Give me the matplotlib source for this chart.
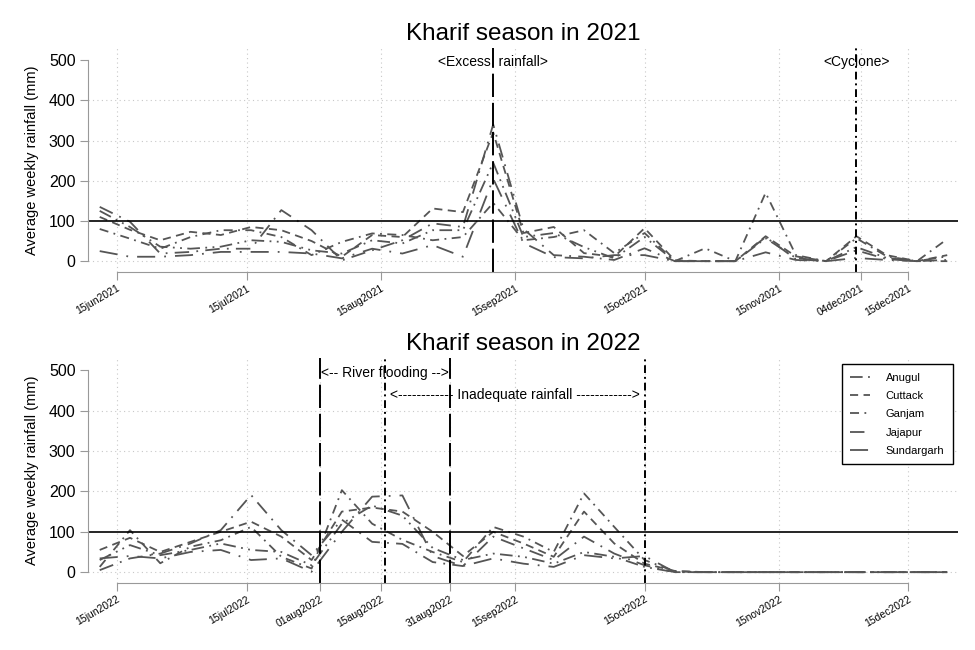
import datetime as dt
import matplotlib
matplotlib.use("Agg")
import matplotlib.pyplot as plt
import matplotlib.dates as mdates
from matplotlib.lines import Line2D

plt.rcParams['font.family'] = ['Liberation Sans', 'DejaVu Sans']

# weekly averages, weeks starting 11 June through 24 December
districts = ["Anugul", "Cuttack", "Ganjam", "Jajapur", "Sundargarh"]
n_weeks = 29

rain_2021 = {
    "Anugul":     [125, 85, 36, 31, 36, 52, 48, 27, 19, 52, 44, 77, 77, 245, 60, 70, 35, 7, 60, 0, 0, 0, 57, 8, 0, 35, 8, 0, 12],
    "Cuttack":    [110, 78, 52, 73, 65, 85, 77, 50, 11, 65, 60, 131, 122, 320, 70, 85, 20, 11, 82, 2, 0, 0, 62, 12, 0, 62, 15, 0, 15],
    "Ganjam":     [80, 56, 31, 60, 77, 77, 60, 15, 48, 69, 65, 52, 60, 145, 52, 60, 77, 20, 70, 0, 32, 0, 170, 15, 0, 57, 12, 0, 55],
    "Jajapur":    [135, 98, 19, 23, 31, 31, 127, 77, 2, 27, 52, 94, 85, 340, 80, 15, 11, 3, 32, 0, 0, 0, 60, 5, 0, 27, 5, 0, 3],
    "Sundargarh": [25, 11, 11, 15, 23, 23, 23, 19, 7, 31, 19, 40, 11, 205, 45, 10, 7, 15, 15, 0, 0, 0, 22, 3, 0, 8, 3, 0, 0],
}

rain_2022 = {
    "Anugul":     [30, 67, 42, 55, 71, 55, 50, 17, 120, 165, 140, 60, 30, 46, 38, 21, 50, 38, 13, 0, 0, 0, 0, 0, 0, 0, 0, 0, 0],
    "Cuttack":    [55, 85, 50, 75, 100, 125, 88, 30, 150, 160, 150, 100, 40, 100, 71, 38, 150, 71, 21, 3, 0, 0, 0, 0, 0, 0, 0, 0, 0],
    "Ganjam":     [13, 104, 22, 63, 79, 112, 38, 9, 203, 120, 80, 50, 25, 112, 88, 50, 195, 112, 30, 2, 0, 0, 0, 0, 0, 0, 0, 0, 0],
    "Jajapur":    [5, 34, 46, 71, 104, 191, 104, 42, 130, 75, 70, 25, 15, 88, 59, 30, 88, 46, 17, 0, 0, 0, 0, 0, 0, 0, 0, 0, 0],
    "Sundargarh": [34, 40, 34, 50, 55, 30, 34, 1, 100, 187, 190, 40, 15, 34, 21, 13, 42, 34, 40, 0, 0, 0, 0, 0, 0, 0, 0, 0, 0],
}

ticks_2021 = ["15jun2021", "15jul2021", "15aug2021", "15sep2021", "15oct2021", "15nov2021", "04dec2021", "15dec2021"]
ticks_2022 = ["15jun2022", "15jul2022", "01aug2022", "15aug2022", "31aug2022", "15sep2022", "15oct2022", "15nov2022", "15dec2022"]

styles = {
    "Anugul": (0, (7, 3, 1, 3, 1, 3)),
    "Cuttack": (0, (4.5, 3)),
    "Ganjam": (0, (5, 3, 1, 3)),
    "Jajapur": (0, (8, 4, 1, 4)),
    "Sundargarh": (0, (10, 5, 1, 5)),
}
line_col = "#555555"
longdash = (0, (12, 3))
dashdot = (0, (4, 2, 1, 2))


def d(s):
    return mdates.date2num(dt.datetime.strptime(s, "%d%b%Y"))


def setup(ax, year, data, ticks):
    start = dt.datetime(year, 6, 11)
    weeks = [mdates.date2num(start + dt.timedelta(days=7 * i)) for i in range(n_weeks)]
    for v in [0, 200, 300, 400]:
        ax.axhline(v, color="#c8c8c8", ls=(0, (1, 3)), lw=0.8, zorder=0)
    for t in ticks:
        ax.axvline(d(t), color="#c8c8c8", ls=(0, (1, 3)), lw=0.8, zorder=0)
    for name in districts:
        ax.plot(weeks, data[name], color=line_col, ls=styles[name], lw=1.3, label=name)
    ax.axhline(100, color="black", lw=1.2)
    ax.set_xlim(d("15jun%d" % year) - 6.7, d("15dec%d" % year) + 11.5)
    ax.set_ylim(-27, 530)
    ax.set_yticks([0, 100, 200, 300, 400, 500])
    ax.set_xticks([d(t) for t in ticks])
    ax.set_xticklabels(ticks, rotation=30, ha="right", rotation_mode="anchor", fontsize=7.5)
    ax.tick_params(axis="y", labelsize=11.5, length=6, color="#999999", pad=3)
    ax.tick_params(axis="x", length=6, color="#999999", pad=2)
    for s in ["top", "right"]:
        ax.spines[s].set_visible(False)
    ax.spines["left"].set_bounds(0, 500)
    ax.spines["bottom"].set_bounds(d(ticks[0]), d(ticks[-1]))
    for s in ["left", "bottom"]:
        ax.spines[s].set_color("#999999")
    ax.set_ylabel("Average weekly rainfall (mm)", fontsize=10.5, labelpad=7)
    ax.set_title("Kharif season in %d" % year, fontsize=17.5, pad=6)


fig = plt.figure(figsize=(9.75, 6.5), dpi=100)
ax1 = fig.add_axes([0.0903, 0.5815, 0.8923, 0.3446])
ax2 = fig.add_axes([0.0903, 0.103, 0.8923, 0.346])

setup(ax1, 2021, rain_2021, ticks_2021)
setup(ax2, 2022, rain_2022, ticks_2022)

# 2021 events
ax1.axvline(d("10sep2021"), color="black", ls=longdash, lw=1.4)
ax1.axvline(d("03dec2021"), color="black", ls=dashdot, lw=1.4)
ax1.text(d("10sep2021"), 495, "<Excess  rainfall>", ha="center", va="center", fontsize=10)
ax1.text(d("03dec2021"), 495, "<Cyclone>", ha="center", va="center", fontsize=10)

# 2022 events
ax2.axvline(d("01aug2022"), color="black", ls=longdash, lw=1.4)
ax2.axvline(d("31aug2022"), color="black", ls=longdash, lw=1.4)
ax2.axvline(d("16aug2022"), color="black", ls=dashdot, lw=1.4)
ax2.axvline(d("15oct2022"), color="black", ls=dashdot, lw=1.4)
ax2.text(d("16aug2022"), 494, "<-- River flooding -->", ha="center", va="center", fontsize=10)
ax2.text(d("15sep2022"), 439, "<------------ Inadequate rainfall ------------>",
         ha="center", va="center", fontsize=10)

handles = [Line2D([], [], color=line_col, ls=styles[n], lw=1.3) for n in districts]
leg = ax2.legend(handles, districts, loc="upper right", bbox_to_anchor=(0.994, 0.973),
                 borderaxespad=0, fontsize=8, fancybox=False, edgecolor="black",
                 framealpha=1, handlelength=1.8, handletextpad=1.4, labelspacing=0.75,
                 borderpad=0.75)
leg.get_frame().set_linewidth(1.0)

fig.savefig("out.png", dpi=100)
